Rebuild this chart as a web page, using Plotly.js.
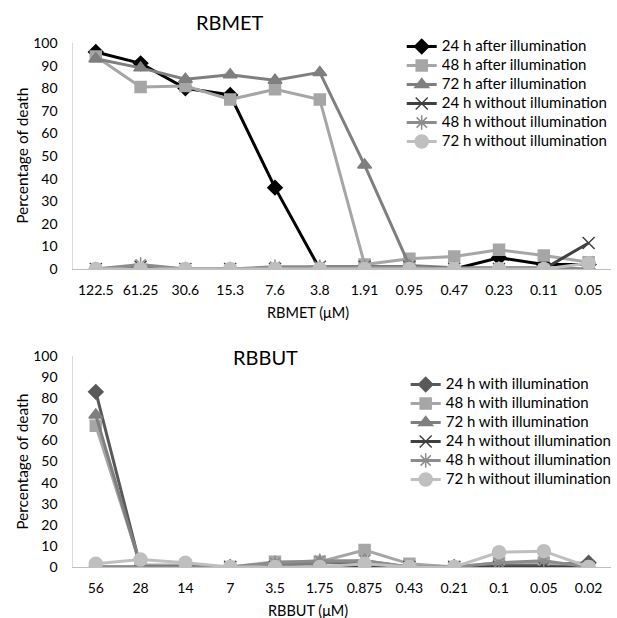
<!DOCTYPE html>
<html><head><meta charset="utf-8">
<script src="https://cdn.plot.ly/plotly-3.0.1.min.js"></script>
<style>html,body{margin:0;padding:0;background:#fff}</style>
</head><body><div id="chart" style="width:617px;height:618px"></div>
<script>
// Top chart: RBMET
const metConc = ["122.5","61.25","30.6","15.3","7.6","3.8","1.91","0.95","0.47","0.23","0.11","0.05"];
const met24After = [96, 91, 80, 77, 36, 0, 1, 1, 0, 5, 2, 2];
const met48After = [94, 80.5, 81, 75, 79.5, 75, 2, 4.5, 5.5, 8.5, 6, 3];
const met72After = [93, 89, 84, 86, 83.5, 87, 46, 1.5, 0.5, 0.5, 0.5, 0];
const met24Without = [0, 1, 0, 0, 0, 1, 1, 1, 0, 0, 0, 11.5];
const met48Without = [0, 2, 0, 0, 1, 1, 1, 1, 0, 0, 0, 0];
const met72Without = [0, 0, 0, 0, 0, 0, 0, 0, 0, 0, 0, 2.5];
const metNames = ["24 h after illumination","48 h after illumination","72 h after illumination","24 h without illumination","48 h without illumination","72 h without illumination"];

// Bottom chart: RBBUT
const butConc = ["56","28","14","7","3.5","1.75","0.875","0.43","0.21","0.1","0.05","0.02"];
const but24With = [83, 0, 0, 0, 1, 2, 2, 0, 0, 1, 1, 2];
const but48With = [67, 1, 1, 0, 2.5, 2.5, 8, 1.5, 0, 2, 2, 0];
const but72With = [72, 0, 0, 0, 1, 2, 3, 0, 0, 0, 0, 0];
const but24Without = [0, 0, 0, 0, 0, 0, 0, 0, 0, 0, 0, 0];
const but48Without = [0, 0, 0, 0, 2, 3, 3, 0, 0, 2, 3, 0];
const but72Without = [1.5, 3.5, 2, 0, 0, 0, 1.5, 0, 0, 7, 7.5, 0];
const butNames = ["24 h with illumination","48 h with illumination","72 h with illumination","24 h without illumination","48 h without illumination","72 h without illumination"];

const styles = [
  {color:"#000000", symbol:"diamond", size:11},
  {color:"#A6A6A6", symbol:"square", size:11},
  {color:"#7F7F7F", symbol:"triangle-up", size:12},
  {color:"#404040", symbol:"x-thin-open", size:12},
  {color:"#8C8C8C", symbol:"asterisk-open", size:12},
  {color:"#BFBFBF", symbol:"circle", size:13}
];
const butStyles = styles.map((s,i)=> i===0 ? Object.assign({}, s, {color:"#595959"}) : s);

function legendLabel(n){ return '<span style="font-size:15px">' + n + '</span>'; }

function mk(x, y, name, st, xa, ya, leg){
  return {x:x, y:y, name:legendLabel(name), type:"scatter", mode:"lines+markers",
    xaxis:xa, yaxis:ya, legend:leg,
    line:{color:st.color, width:3},
    marker:{color:st.color, symbol:st.symbol, size:st.size, line:{color:st.color, width:1.5}}};
}

const metSeries = [met24After, met48After, met72After, met24Without, met48Without, met72Without];
const butSeries = [but24With, but48With, but72With, but24Without, but48Without, but72Without];
const data = [];
metSeries.forEach((s,i)=>data.push(mk(metConc, s, metNames[i], styles[i], "x", "y", "legend")));
butSeries.forEach((s,i)=>data.push(mk(butConc, s, butNames[i], butStyles[i], "x2", "y2", "legend2")));

const W=617, H=618;
const FF = "Lato, Open Sans, sans-serif";
const font = {family:FF, size:14, color:"#000"};
const xax = {type:"category", range:[-0.5,11.5], showgrid:false, zeroline:false, showline:true,
  linecolor:"#BFBFBF", linewidth:1, ticks:"", tickfont:{family:FF, size:14, color:"#000"}, fixedrange:true};
const yax = {range:[0,100], dtick:10, showgrid:false, zeroline:false, showline:true,
  linecolor:"#D9D9D9", linewidth:1, ticks:"", ticklabelstandoff:12, tickfont:{family:FF, size:14, color:"#000"}, fixedrange:true};

function ann(text, px, py, size, angle){
  return {text:text, x:px/W, y:1-py/H, xref:"paper", yref:"paper", xanchor:"center", yanchor:"middle",
    showarrow:false, textangle:angle||0, font:{family:FF, size:size, color:"#000"}};
}

const layout = {
  width:W, height:H, margin:{l:0,r:0,t:0,b:0}, paper_bgcolor:"#fff", plot_bgcolor:"rgba(0,0,0,0)",
  font:font, showlegend:true,
  xaxis: Object.assign({}, xax, {domain:[74/W, 616/W], anchor:"y", ticklabelstandoff:8}),
  yaxis: Object.assign({}, yax, {domain:[1-269/H, 1-43/H], anchor:"x"}),
  xaxis2: Object.assign({}, xax, {domain:[74/W, 616/W], anchor:"y2", ticklabelstandoff:8}),
  yaxis2: Object.assign({}, yax, {domain:[1-567/H, 1-356/H], anchor:"x2"}),
  legend:{x:405/W, y:1-32/H, xanchor:"left", yanchor:"top", bgcolor:"rgba(255,255,255,0)",
    font:{family:FF, size:10.8, color:"#000"}, tracegroupgap:0, itemwidth:30},
  legend2:{x:409/W, y:1-370/H, xanchor:"left", yanchor:"top", bgcolor:"rgba(255,255,255,0)",
    font:{family:FF, size:12, color:"#000"}, tracegroupgap:0, itemwidth:30},
  annotations:[
    ann("RBMET", 232, 22, 20),
    ann("RBBUT", 268, 357, 20),
    ann("RBMET (μM)", 311, 312, 14.5),
    ann("RBBUT (μM)", 311, 610, 14.5),
    ann("Percentage of death", 22, 156, 15.5, -90),
    ann("Percentage of death", 22, 462, 15.5, -90)
  ]
};
Plotly.newPlot("chart", data, layout, {staticPlot:true, displayModeBar:false});
</script></body></html>
